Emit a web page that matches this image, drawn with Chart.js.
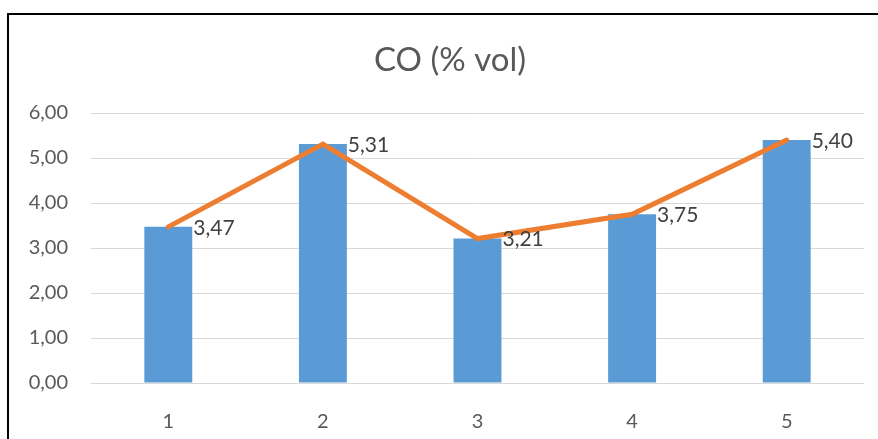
<!DOCTYPE html>
<html>
<head>
<meta charset="utf-8">
<script src="https://cdn.jsdelivr.net/npm/chart.js@4"></script>
<style>
  html, body { margin: 0; padding: 0; background: #fff; }
  #wrap { width: 878px; height: 439px; }
</style>
</head>
<body>
<div id="wrap"><canvas id="chart"></canvas></div>
<script>
const categories = ['1', '2', '3', '4', '5'];
const coValues = [3.47, 5.31, 3.21, 3.75, 5.40];
const yTicks = [0, 1, 2, 3, 4, 5, 6];
const chartTitle = 'CO (% vol)';

const fontFamily = 'Lato, "Liberation Sans", sans-serif';
const fmt = v => v.toFixed(2).replace('.', ',');

// frame + title drawn by hand so they sit where the original puts them
const frame = {
  id: 'frame',
  beforeDraw(chart) {
    const ctx = chart.ctx;
    ctx.save();
    ctx.strokeStyle = '#000';
    ctx.lineWidth = 2;
    ctx.strokeRect(8, 14, 1000, 1000);
    ctx.fillStyle = '#595959';
    ctx.font = '33px ' + fontFamily;
    ctx.textAlign = 'center';
    ctx.textBaseline = 'middle';
    ctx.fillText(chartTitle, 450, 60);
    ctx.restore();
  }
};

// value labels just right of each bar top
const valueLabels = {
  id: 'valueLabels',
  afterDatasetsDraw(chart) {
    const ctx = chart.ctx;
    const meta = chart.getDatasetMeta(1);
    ctx.save();
    ctx.fillStyle = '#404040';
    ctx.font = '21px ' + fontFamily;
    ctx.textAlign = 'left';
    ctx.textBaseline = 'middle';
    meta.data.forEach((bar, i) => {
      ctx.fillText(fmt(coValues[i]), bar.x + bar.width / 2 + 1, bar.y + 1);
    });
    ctx.restore();
  }
};

new Chart(document.getElementById('chart'), {
  data: {
    labels: categories,
    datasets: [
      {
        type: 'line',
        data: coValues,
        borderColor: '#ED7D31',
        borderWidth: 5,
        borderCapStyle: 'round',
        pointRadius: 0,
        tension: 0,
        order: 0
      },
      {
        type: 'bar',
        data: coValues,
        backgroundColor: '#5B9BD5',
        categoryPercentage: 1,
        barPercentage: 0.31,
        order: 1
      }
    ]
  },
  options: {
    responsive: true,
    maintainAspectRatio: false,
    animation: false,
    layout: { padding: { top: 113, right: 14, left: 0, bottom: 0 } },
    plugins: {
      legend: { display: false },
      title: { display: false },
      tooltip: { enabled: false }
    },
    scales: {
      x: {
        offset: true,
        grid: { display: false },
        border: { display: false },
        ticks: { color: '#595959', font: { size: 20, family: fontFamily }, padding: 19 },
        afterFit(scale) { scale.height = 56; }
      },
      y: {
        min: 0,
        max: 6,
        afterBuildTicks(scale) { scale.ticks = yTicks.map(v => ({ value: v })); },
        grid: { color: '#D9D9D9', lineWidth: 1, drawTicks: false },
        border: { display: false },
        ticks: {
          color: '#595959',
          font: { size: 20, family: fontFamily },
          padding: 23,
          callback: v => fmt(v)
        },
        afterFit(scale) { scale.width = 91; }
      }
    }
  },
  plugins: [frame, valueLabels]
});
</script>
</body>
</html>
